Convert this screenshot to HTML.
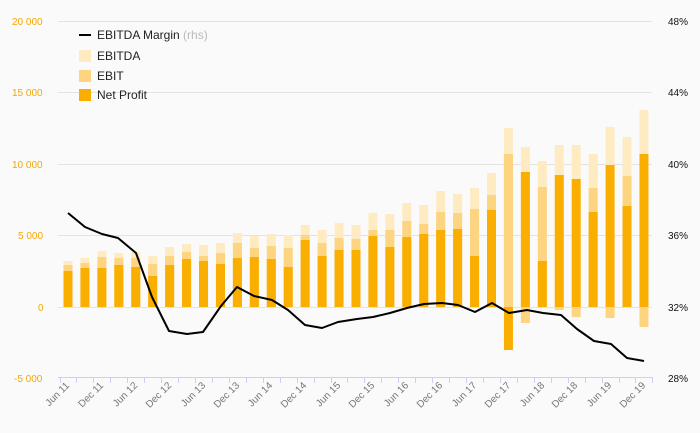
<!DOCTYPE html>
<html><head><meta charset="utf-8"><style>
html,body{margin:0;padding:0;background:#fafafa;}
svg{display:block;font-family:"Liberation Sans",sans-serif;}
</style></head><body>
<svg id="c" width="700" height="433" xmlns="http://www.w3.org/2000/svg">
<rect width="700" height="433" fill="#fafafa"/>
<g stroke="#e3e3e3" stroke-width="1">
<line x1="58" x2="652" y1="21.5" y2="21.5"/>
<line x1="58" x2="652" y1="92.5" y2="92.5"/>
<line x1="58" x2="652" y1="164.5" y2="164.5"/>
<line x1="58" x2="652" y1="235.5" y2="235.5"/>
<line x1="58" x2="652" y1="307.5" y2="307.5"/>
</g>
<g id="bars"></g>
<line x1="58" x2="653" y1="377.5" y2="377.5" stroke="#c8d4ea"/>
<g id="ticks" stroke="#c8d4ea"></g>
<polyline fill="none" stroke="#000" stroke-width="2" stroke-linejoin="round" points="68,213 85,227 102,234 118,238 136,253 152,297 169,331 187,334 203,332 221,306 237,287 254,296 272,300 288,310 305,325 322,328 338,322 357,319 373,317 390,313 407,308 424,304 442,303 458,305 475,312 492,303 509,313 527,310 543,313 561,315 577,329 594,341 611,344 627,358 644,361"/>
<g fill="#f5a800" font-size="10">
<text x="12" y="25">20 000</text>
<text x="12" y="96">15 000</text>
<text x="12" y="168">10 000</text>
<text x="18" y="239">5 000</text>
<text x="38" y="311">0</text>
<text x="14" y="382">-5 000</text>
</g>
<g fill="#111" font-size="10">
<text x="668" y="25">48%</text>
<text x="668" y="96">44%</text>
<text x="668" y="168">40%</text>
<text x="668" y="239">36%</text>
<text x="668" y="311">32%</text>
<text x="668" y="382">28%</text>
</g>
<g fill="#777" font-size="10" text-anchor="end">
<text transform="translate(70,386) rotate(-45)">Jun 11</text>
<text transform="translate(104,386) rotate(-45)">Dec 11</text>
<text transform="translate(138,386) rotate(-45)">Jun 12</text>
<text transform="translate(172,386) rotate(-45)">Dec 12</text>
<text transform="translate(206,386) rotate(-45)">Jun 13</text>
<text transform="translate(240,386) rotate(-45)">Dec 13</text>
<text transform="translate(273,386) rotate(-45)">Jun 14</text>
<text transform="translate(307,386) rotate(-45)">Dec 14</text>
<text transform="translate(341,386) rotate(-45)">Jun 15</text>
<text transform="translate(375,386) rotate(-45)">Dec 15</text>
<text transform="translate(409,386) rotate(-45)">Jun 16</text>
<text transform="translate(443,386) rotate(-45)">Dec 16</text>
<text transform="translate(477,386) rotate(-45)">Jun 17</text>
<text transform="translate(511,386) rotate(-45)">Dec 17</text>
<text transform="translate(545,386) rotate(-45)">Jun 18</text>
<text transform="translate(578,386) rotate(-45)">Dec 18</text>
<text transform="translate(612,386) rotate(-45)">Jun 19</text>
<text transform="translate(646,386) rotate(-45)">Dec 19</text>
</g>
<g font-size="12">
<line x1="79" x2="91" y1="35" y2="35" stroke="#000" stroke-width="2"/>
<text x="97" y="39" fill="#222">EBITDA Margin <tspan fill="#bbb">(rhs)</tspan></text>
<rect x="79" y="50" width="12" height="12" fill="#ffebc2"/>
<text x="97" y="60" fill="#222">EBITDA</text>
<rect x="79" y="70" width="12" height="12" fill="#fdd47f"/>
<text x="97" y="80" fill="#222">EBIT</text>
<rect x="79" y="89" width="12" height="12" fill="#f9ae00"/>
<text x="97" y="99" fill="#222">Net Profit</text>
</g>
</svg>
<script>
var NP=[271,268,268,265,267,276,265,259,261,264,258,257,259,267,240,256,250,250,236,247,237,234,230,229,256,210,350,172,261,175,179,212,165,206,154];
var EB=[265,263,257,258,258,264,256,252,256,253,243,248,246,248,235,243,238,239,230,230,221,224,212,213,209,195,154,323,187,310,317,188,318,176,327];
var ED=[261,258,251,253,252,256,247,244,245,243,233,236,234,235,225,230,223,225,213,214,203,205,191,194,188,173,128,147,161,145,145,154,127,137,110];
var g=document.getElementById('bars'),t=document.getElementById('ticks'),Z=307,ns='http://www.w3.org/2000/svg';
function r(x,y,c){var e=document.createElementNS(ns,'rect');var a=Math.min(y,Z),b=Math.max(y,Z);e.setAttribute('x',x-4.5);e.setAttribute('y',a);e.setAttribute('width',9);e.setAttribute('height',Math.max(b-a,0.5));e.setAttribute('fill',c);g.appendChild(e);}
for(var i=0;i<35;i++){var x=68+16.94*i;r(x,ED[i],'#ffebc2');r(x,EB[i],'#fdd47f');r(x,NP[i],'#f9ae00');}
for(var i=0;i<=35;i++){var x=Math.round(59.5+16.94*i)+0.5;var l=document.createElementNS(ns,'line');l.setAttribute('x1',x);l.setAttribute('x2',x);l.setAttribute('y1',377);l.setAttribute('y2',383);t.appendChild(l);}
</script>
</body></html>
